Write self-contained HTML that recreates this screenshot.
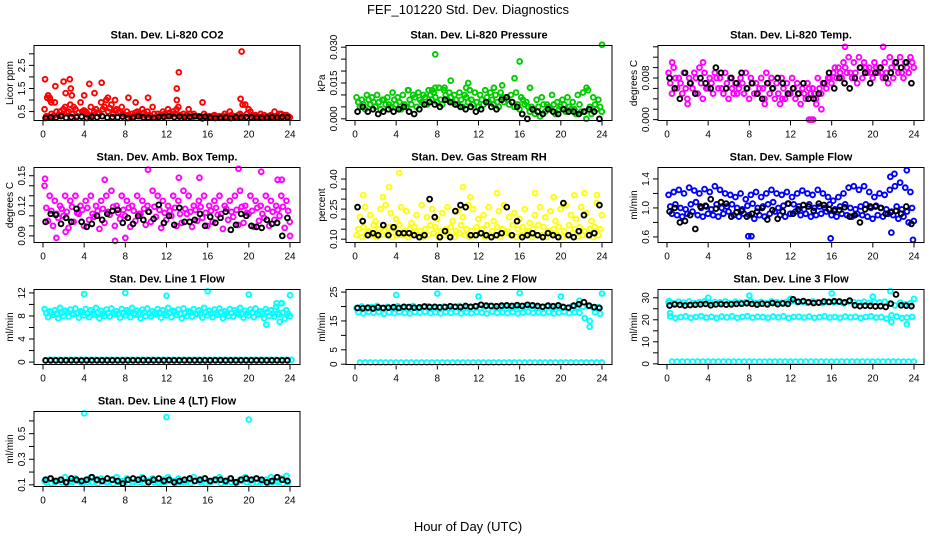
<!DOCTYPE html>
<html><head><meta charset="utf-8">
<style>
html,body{margin:0;padding:0;background:#fff;}
svg{display:block;font-family:"Liberation Sans",Arial,sans-serif;}
</style></head>
<body>
<svg id="chart" width="936" height="540" viewBox="0 0 936 540" xmlns="http://www.w3.org/2000/svg">
<rect width="936" height="540" fill="#fff"/>
<text x="468" y="14" font-size="13" text-anchor="middle">FEF_101220  Std. Dev. Diagnostics</text>
<text x="468" y="531" font-size="13" text-anchor="middle">Hour of Day (UTC)</text>
</svg>
<script>
// ---- Data (hours 0..24) ----
const xTicks = [0,4,8,12,16,20,24];
// Panel 1 CO2
const co2A = [0.6,1.1,0.9,0.5,0.7,0.8,0.6,0.9,0.5,0.7,0.6,0.9,1.0,0.8,0.6,0.7,0.5,0.4,0.5,0.6,0.5,0.7,0.4,0.5,0.6,0.5,0.7,0.4,0.6,0.4,0.3,0.4,0.3,0.35,0.3,0.4,0.5,0.3,0.4,0.8,0.5,0.35,0.4,0.3,0.35,0.3,0.4,0.35];
const co2B = [0.3,0.4,0.5,0.35,0.45,0.4,0.3,0.5,0.4,0.35,0.45,0.6,0.5,0.4,0.45,0.4,0.35,0.3,0.4,0.45,0.35,0.4,0.3,0.4,0.45,0.4,0.35,0.3,0.4,0.3,0.25,0.3,0.25,0.3,0.25,0.3,0.35,0.25,0.3,0.4,0.35,0.3,0.3,0.25,0.3,0.25,0.3,0.3];
const co2C = [0.25,0.3,0.35,0.6,0.5,0.7,0.45,0.55,0.3,0.5,0.4,0.7,0.65,0.55,0.5,0.35,0.3,0.45,0.3,0.35,0.3,0.25,0.35,0.3,0.35,0.6,0.3,0.35,0.25,0.3,0.2,0.25,0.3,0.25,0.3,0.25,0.3,0.35,0.3,0.6,0.3,0.25,0.35,0.3,0.3,0.4,0.35,0.25];
const co2OutT = [0.2,0.4,0.5,0.7,0.8,1.2,2.0,2.2,2.6,2.7,2.8,4.0,4.5,5.0,5.7,6.3,7.0,8.3,9.0,10.2,13.0,13.2,13.0,15.5,19.2,19.3,19.4,22.5];
const co2OutV = [1.9,1.1,1.2,1.0,0.9,1.6,1.8,1.3,1.9,1.5,1.2,1.2,1.7,1.3,1.75,1.1,1.0,1.1,0.9,1.1,1.5,2.2,1.0,0.9,1.05,3.1,0.8,0.5];
const co2K = [0.22,0.25,0.24,0.3,0.23,0.26,0.25,0.28,0.22,0.27,0.25,0.3,0.24,0.26,0.25,0.28,0.22,0.24,0.3,0.25,0.24,0.23,0.26,0.27,0.3,0.26,0.28,0.25,0.27,0.3,0.27,0.28,0.24,0.22,0.23,0.24,0.22,0.25,0.24,0.26,0.25,0.24,0.23,0.24,0.25,0.24,0.26,0.25];
// Panel 2 Pressure
const prA = [.009,.008,.010,.009,.010,.008,.009,.011,.009,.010,.012,.010,.011,.010,.012,.011,.013,.012,.011,.010,.011,.010,.012,.011,.010,.012,.011,.010,.011,.009,.010,.011,.009,.007,.005,.008,.009,.006,.010,.007,.008,.009,.007,.010,.011,.012,.009,.008];
const prB = [.005,.004,.006,.005,.004,.006,.005,.006,.004,.005,.006,.005,.007,.006,.008,.007,.006,.008,.007,.006,.005,.007,.006,.005,.006,.007,.006,.005,.007,.006,.005,.004,.006,.003,.002,.001,.003,.004,.002,.005,.003,.004,.002,.003,.000,.002,.004,.003];
const prC = [.007,.006,.008,.007,.007,.008,.006,.008,.007,.006,.008,.009,.008,.009,.010,.009,.008,.010,.009,.008,.008,.009,.008,.007,.008,.009,.008,.007,.009,.008,.007,.006,.008,.005,.004,.005,.006,.005,.006,.004,.006,.005,.004,.006,.003,.005,.006,.005];
const prOutT = [7.8,9.3,8.7,11.0,10.8,13.5,14.3,15.5,16.0,17.0,7.5,7.8,24,22.5,5.2];
const prOutV = [.027,.016,.013,.015,.013,.013,.014,.017,.024,.013,.012,.013,.031,.013,.012];
const prK = [.003,.005,.003,.004,.002,.003,.004,.003,.004,.005,.003,.002,.004,.006,.007,.006,.005,.008,.007,.006,.005,.004,.005,.003,.004,.007,.005,.004,.008,.009,.007,.005,.002,.000,.004,.003,.002,.004,.003,.002,.004,.003,.003,.002,.003,.004,.003,.000];
// Panel 3 Temp
const tpA = [.009,.010,.008,.009,.008,.009,.010,.009,.008,.009,.008,.009,.008,.007,.008,.009,.008,.007,.008,.009,.008,.007,.008,.007,.008,.007,.006,.007,.006,.008,.007,.008,.009,.010,.011,.012,.011,.012,.011,.010,.011,.010,.011,.012,.011,.012,.011,.012];
const tpB = [.005,.006,.005,.004,.006,.005,.004,.006,.005,.006,.005,.004,.005,.006,.005,.004,.005,.006,.004,.005,.004,.003,.004,.005,.004,.003,.004,.005,.004,.005,.006,.007,.008,.008,.009,.008,.007,.008,.009,.008,.009,.008,.007,.008,.009,.008,.009,.010];
const tpC = [.007,.008,.007,.006,.007,.008,.007,.006,.007,.008,.006,.007,.006,.005,.007,.006,.007,.005,.006,.007,.006,.005,.006,.005,.006,.005,.005,.006,.005,.006,.007,.008,.010,.009,.010,.009,.009,.010,.010,.009,.010,.009,.009,.010,.010,.009,.010,.011];
const tpOutT = [14,14.2,13.8,2.0,9.5,15,14.5,11.2,17.3,21.0,0.5,3.5];
const tpOutV = [.000,.000,.000,.003,.003,.002,.003,.004,.014,.014,.011,.011];
const tpK = [.008,.006,.004,.009,.007,.005,.008,.007,.006,.010,.009,.006,.008,.007,.009,.006,.007,.005,.004,.007,.006,.008,.007,.005,.006,.005,.007,.004,.004,.005,.007,.009,.006,.008,.007,.006,.008,.010,.009,.007,.009,.010,.008,.009,.011,.010,.011,.007];
// Panel 4 Amb box temp
const abA = [.14,.13,.125,.12,.13,.125,.13,.12,.125,.13,.12,.125,.13,.135,.12,.13,.125,.12,.13,.125,.12,.135,.13,.125,.12,.13,.125,.135,.13,.12,.125,.13,.12,.125,.13,.12,.125,.13,.135,.12,.13,.125,.12,.13,.125,.12,.13,.125];
const abB = [.105,.10,.108,.11,.098,.104,.112,.10,.106,.109,.097,.103,.111,.10,.107,.11,.099,.105,.112,.101,.104,.109,.098,.106,.11,.10,.103,.112,.099,.105,.108,.10,.104,.111,.097,.106,.109,.101,.103,.112,.099,.105,.108,.10,.106,.11,.098,.104];
const abC = [.118,.115,.112,.117,.114,.119,.113,.116,.118,.112,.115,.117,.114,.119,.113,.116,.118,.115,.112,.117,.114,.119,.116,.113,.115,.118,.112,.117,.114,.116,.119,.113,.115,.118,.112,.117,.114,.116,.119,.113,.115,.118,.112,.117,.114,.116,.119,.115];
const abOutT = [10.2,19,21.2,13.2,6,0.2,7,1.3,8,2.2,24,15.2,22.8,23.2];
const abOutV = [.156,.157,.154,.148,.146,.147,.085,.088,.088,.094,.090,.148,.146,.146];
const abK = [.104,.112,.111,.102,.108,.104,.117,.104,.099,.102,.110,.106,.112,.115,.116,.103,.108,.102,.110,.106,.114,.107,.121,.103,.110,.101,.118,.104,.104,.106,.112,.100,.109,.103,.108,.114,.096,.101,.112,.110,.100,.099,.098,.106,.102,.103,.090,.108];
// Panel 5 Gas stream RH
const rhA = [.12,.11,.13,.12,.11,.12,.13,.11,.12,.12,.11,.13,.12,.11,.12,.13,.11,.12,.12,.11,.13,.12,.11,.12,.13,.11,.12,.12,.11,.13,.12,.11,.12,.13,.11,.12,.12,.11,.13,.12,.11,.12,.13,.11,.12,.12,.11,.12];
const rhB = [.15,.16,.14,.17,.15,.14,.16,.15,.17,.14,.15,.16,.14,.15,.17,.16,.14,.15,.16,.14,.17,.15,.14,.16,.15,.17,.14,.16,.15,.14,.17,.15,.16,.14,.15,.17,.16,.14,.15,.16,.14,.17,.15,.16,.14,.15,.16,.15];
const rhC = [.21,.26,.22,.19,.25,.27,.23,.20,.26,.24,.18,.22,.27,.21,.25,.20,.23,.26,.19,.24,.21,.27,.25,.20,.22,.26,.19,.24,.27,.21,.23,.20,.25,.18,.22,.26,.21,.24,.19,.25,.27,.22,.20,.26,.23,.19,.28,.22];
const rhOutT = [4.3,3.3,10.5,0.8,2.7,13.8,19.3,22.3,21.3,23.5,17.5,11.2];
const rhOutV = [.43,.36,.36,.32,.31,.33,.31,.33,.32,.32,.33,.31];
const rhK = [.26,.19,.12,.13,.12,.17,.12,.16,.13,.13,.13,.12,.11,.12,.30,.21,.11,.14,.11,.24,.27,.26,.12,.12,.13,.12,.11,.12,.13,.26,.12,.19,.11,.12,.13,.12,.11,.13,.12,.11,.28,.12,.11,.14,.22,.12,.13,.27];
// Panel 6 Sample flow
const sfA = [1.18,1.22,1.25,1.2,1.28,1.24,1.2,1.26,1.22,1.3,1.25,1.2,1.18,1.15,1.2,1.12,1.18,1.22,1.15,1.2,1.25,1.2,1.18,1.22,1.15,1.2,1.24,1.2,1.18,1.25,1.2,1.15,1.1,1.15,1.2,1.28,1.3,1.25,1.3,1.22,1.15,1.2,1.18,1.25,1.3,1.35,1.28,1.22];
const sfB = [0.92,0.9,0.88,0.92,0.95,0.9,0.88,0.92,0.9,0.88,0.92,0.95,0.9,0.88,0.92,0.9,0.85,0.9,0.88,0.92,0.95,0.9,0.88,0.92,0.95,0.9,0.92,0.88,0.9,0.92,0.95,0.9,0.88,0.92,0.9,0.88,0.92,0.9,0.88,0.85,0.9,0.88,0.92,0.9,0.85,0.88,0.8,0.82];
const sfC = [1.02,1.05,1.0,0.98,1.05,1.08,1.0,1.02,0.98,1.05,1.0,1.02,1.05,1.0,0.98,1.03,1.06,1.0,1.02,1.05,1.08,1.0,1.03,1.06,1.05,1.02,0.98,1.05,1.0,1.02,1.0,1.05,0.98,1.02,1.05,1.0,0.98,1.02,1.05,1.0,1.03,1.0,0.98,0.95,1.02,0.98,0.95,1.0];
const sfOutT = [7.9,8.2,15.9,23.9,23.3,22.1,21.7,21.8];
const sfOutV = [.61,.61,.58,.56,1.52,1.47,1.43,.66];
const sfK = [.95,1.0,.8,.82,.9,.71,1.02,1.03,1.12,.99,1.08,1.06,.88,.94,.96,.88,.92,.95,1.0,.84,.97,.85,.95,1.06,.92,.98,1.04,1.02,.96,1.06,1.04,.98,.96,.97,1.01,.88,.9,.8,.98,1.02,1.02,1.0,.92,.94,.96,.92,1.02,.78];
// Panel 7 Line 1 flow
const l1A = [9.2,8.8,9.0,9.4,8.9,9.1,9.3,8.8,9.2,9.0,9.4,8.9,9.1,9.3,8.8,9.2,9.0,9.4,8.9,9.1,9.3,8.8,9.2,9.0,9.4,8.9,9.1,9.3,8.8,9.2,9.0,9.4,8.9,9.1,9.3,8.8,9.2,9.0,9.4,8.9,9.1,9.3,8.8,9.2,9.0,9.6,10.2,9.0];
const l1B = [7.8,8.2,7.6,8.0,7.9,8.3,7.7,8.1,7.8,8.2,7.6,8.0,7.9,8.3,7.7,8.1,7.8,8.2,7.6,8.0,7.9,8.3,7.7,8.1,7.8,8.2,7.6,8.0,7.9,8.3,7.7,8.1,7.8,8.2,7.6,8.0,7.9,8.3,7.7,8.1,7.8,8.2,7.6,8.0,7.9,8.3,7.5,8.0];
const l1C = [8.5,8.6,8.4,8.5,8.6,8.4,8.5,8.7,8.4,8.5,8.6,8.4,8.5,8.6,8.4,8.5,8.7,8.4,8.5,8.6,8.4,8.5,8.6,8.4,8.5,8.7,8.4,8.5,8.6,8.4,8.5,8.6,8.4,8.5,8.7,8.4,8.5,8.6,8.4,8.5,8.6,8.4,8.5,8.7,8.4,8.5,8.6,8.4];
const l1Z = [0.4,0.4,0.4,0.4,0.4,0.4,0.4,0.4,0.4,0.4,0.4,0.4,0.4,0.4,0.4,0.4,0.4,0.4,0.4,0.4,0.4,0.4,0.4,0.4,0.4,0.4,0.4,0.4,0.4,0.4,0.4,0.4,0.4,0.4,0.4,0.4,0.4,0.4,0.4,0.4,0.4,0.4,0.4,0.4,0.4,0.4,0.4,0.4];
const l1OutT = [4,8,12,16,20,24,21.7,23,23.2,22.7];
const l1OutV = [11.8,12,11.5,12.3,11.7,11.6,6.5,7,10.2,10.2];
const l1K = [0.3,0.3,0.3,0.3,0.3,0.3,0.3,0.3,0.3,0.3,0.3,0.3,0.3,0.3,0.3,0.3,0.3,0.3,0.3,0.3,0.3,0.3,0.3,0.3,0.3,0.3,0.3,0.3,0.3,0.3,0.3,0.3,0.3,0.3,0.3,0.3,0.3,0.3,0.3,0.3,0.3,0.3,0.3,0.3,0.3,0.3,0.3,0.3];
// Panel 8 Line 2 flow
const l2A = [19.5,20,19.2,19.8,20.2,19.5,19.9,19.3,20.1,19.6,19.8,20.2,19.4,19.9,20.1,19.5,19.8,20,19.3,19.9,20.2,19.6,19.8,20.1,19.5,19.9,20.2,19.4,19.8,20.1,19.5,20,19.3,19.8,20.2,19.6,19.9,20.1,19.4,19.8,20,19.5,20.2,19.7,19.9,20.1,19.6,19.8];
const l2B = [18,17.6,18.2,17.8,18.1,17.5,18,17.7,18.2,17.8,17.6,18.1,17.9,18.2,17.7,18,17.6,18.1,17.8,18.2,17.6,18,17.7,18.1,17.9,17.6,18.2,17.8,18,17.7,18.1,17.6,17.9,18.2,17.8,18,17.7,18.1,17.6,17.9,18.2,17.7,18,17.8,16,15,18,17.5];
const l2Z = [0.6,0.6,0.6,0.6,0.6,0.6,0.6,0.6,0.6,0.6,0.6,0.6,0.6,0.6,0.6,0.6,0.6,0.6,0.6,0.6,0.6,0.6,0.6,0.6,0.6,0.6,0.6,0.6,0.6,0.6,0.6,0.6,0.6,0.6,0.6,0.6,0.6,0.6,0.6,0.6,0.6,0.6,0.6,0.6,0.6,0.6,0.6,0.6];
const l2OutT = [4,8,12,16,20,24,22.8,21.8];
const l2OutV = [24,24.5,23.5,24.7,23.5,24.5,13,22];
const l2K = [19.5,19.4,19.6,19.3,19.7,19.5,19.6,19.8,19.5,19.9,19.8,19.6,19.7,20,19.8,19.9,19.7,19.8,20.1,19.9,19.8,20.2,19.9,20.1,20.6,20.3,20.2,20.1,20.3,20.4,20.2,20.5,20.2,20.6,20.4,20.2,19.9,20.3,20.1,20.4,19.8,19.6,20.3,20.8,21.5,20.3,19.8,19.5];
// Panel 9 Line 3 flow
const l3A = [28,27.5,28.2,27.8,28.3,27.6,28,28.4,27.7,28.1,27.9,28.3,27.6,28.2,27.8,28,28.4,27.7,28.1,27.5,28.3,28,27.8,28.2,28.5,27.9,28.1,27.7,28.3,28,27.6,28.2,27.9,28.1,27.5,28.3,28,27.8,28.2,27.7,28.1,27.9,28.2,27.4,26.5,27.8,27,27.5];
const l3B = [21.5,20.8,21.2,21.6,20.9,21.3,21.7,21,21.4,20.8,21.5,21.1,21.6,20.9,21.3,21.7,21,21.4,21.2,20.9,21.5,21.1,21.6,20.8,21.3,21.4,21,21.5,20.9,21.2,21.6,21,21.3,20.9,21.5,21.1,21.4,20.8,21.3,21.6,21,21.2,20.5,22,21.5,20.8,21,21.3];
const l3Z = [1,1,1,1,1,1,1,1,1,1,1,1,1,1,1,1,1,1,1,1,1,1,1,1,1,1,1,1,1,1,1,1,1,1,1,1,1,1,1,1,1,1,1,1,1,1,1,1];
const l3OutT = [4,8,12,16,20,21.7,21.8,23.3,24,0.2,0.3];
const l3OutV = [30,31,29.5,32,30.5,33,19,18,29.5,28.5,23];
const l3K = [26.5,27,26.8,26.5,26.7,26.8,27,27.2,26.6,27,27.1,26.9,27,27.2,27.3,27.5,27.2,26.9,27.3,27,27.6,27.1,27.4,27.2,29.3,28.2,28.5,28,27.6,27.8,28.3,28.1,28.4,28.3,27.9,28.7,26.6,26.2,26.4,26.3,26.1,26.2,25.8,27.3,31.5,26.6,26.4,26.2];
// Panel 10 Line 4 flow
const l4A = [.13,.15,.12,.14,.16,.13,.15,.12,.14,.16,.13,.15,.12,.14,.16,.13,.15,.12,.14,.16,.13,.15,.12,.14,.16,.13,.15,.12,.14,.16,.13,.15,.12,.14,.16,.13,.15,.12,.14,.16,.13,.15,.12,.14,.16,.13,.15,.17];
const l4B = [.12,.11,.13,.12,.11,.12,.13,.11,.12,.12,.11,.13,.12,.11,.12,.13,.11,.12,.12,.11,.13,.12,.11,.12,.13,.11,.12,.12,.11,.13,.12,.11,.12,.13,.11,.12,.12,.11,.13,.12,.11,.12,.13,.11,.12,.12,.11,.12];
const l4OutT = [4,12,20];
const l4OutV = [.66,.63,.61];
const l4K = [.14,.15,.13,.14,.12,.15,.14,.13,.14,.16,.14,.13,.15,.14,.13,.11,.14,.15,.14,.15,.12,.14,.15,.13,.14,.12,.13,.14,.15,.13,.14,.15,.13,.14,.14,.13,.15,.12,.14,.15,.14,.15,.14,.12,.13,.16,.14,.13];

const panels = [
 {name:"co2", title:"Stan. Dev. Li-820 CO2", ylab:"Licor ppm", col:0,row:0, ymin:0.114, ymax:3.36, ticks:[0.5,1,1.5,2,2.5,3], labels:["0.5","","1.5","","2.5",""], color:"#ff0000", series:[co2A,co2B,co2C], outT:co2OutT, outV:co2OutV, black:co2K},
 {name:"pressure", title:"Stan. Dev. Li-820 Pressure", ylab:"kPa", col:1,row:0, ymin:-0.0007, ymax:0.0307, ticks:[0,.005,.01,.015,.02,.025,.03], labels:["0.000","","","0.015","","","0.030"], color:"#00cc00", series:[prA,prC,prB], outT:prOutT, outV:prOutV, black:prK},
 {name:"temp", title:"Stan. Dev. Li-820 Temp.", ylab:"degrees C", col:2,row:0, ymin:-0.00017, ymax:0.01425, ticks:[0,.002,.004,.006,.008,.010,.012,.014], labels:["0.000","","","","0.008","","",""], color:"#ff00ff", series:[tpA,tpC,tpB], outT:tpOutT, outV:tpOutV, black:tpK},
 {name:"amb-box-temp", title:"Stan. Dev. Amb. Box Temp.", ylab:"degrees C", col:0,row:1, ymin:0.0834, ymax:0.1582, ticks:[.09,.10,.11,.12,.13,.14,.15], labels:["0.09","","","0.12","","","0.15"], color:"#ff00ff", series:[abA,abC,abB], outT:abOutT, outV:abOutV, black:abK},
 {name:"gas-stream-rh", title:"Stan. Dev. Gas Stream RH", ylab:"percent", col:1,row:1, ymin:0.0835, ymax:0.4576, ticks:[.10,.15,.20,.25,.30,.35,.40], labels:["0.10","","","0.25","","","0.40"], color:"#ffff00", series:[rhA,rhB,rhC], outT:rhOutT, outV:rhOutV, black:rhK},
 {name:"sample-flow", title:"Stan. Dev. Sample Flow", ylab:"ml/min", col:2,row:1, ymin:0.523, ymax:1.558, ticks:[.6,.8,1.0,1.2,1.4], labels:["0.6","","1.0","","1.4"], color:"#0000ff", series:[sfA,sfC,sfB], outT:sfOutT, outV:sfOutV, black:sfK},
 {name:"line1-flow", title:"Stan. Dev. Line 1 Flow", ylab:"ml/min", col:0,row:2, ymin:-0.42, ymax:12.59, ticks:[0,2,4,6,8,10,12], labels:["0","","4","","8","","12"], color:"#00ffff", series:[l1A,l1C,l1B,l1Z], outT:l1OutT, outV:l1OutV, black:l1K},
 {name:"line2-flow", title:"Stan. Dev. Line 2 Flow", ylab:"ml/min", col:1,row:2, ymin:-0.1, ymax:25.9, ticks:[0,5,10,15,20,25], labels:["0","5","","15","","25"], color:"#00ffff", series:[l2A,l2B,l2Z], outT:l2OutT, outV:l2OutV, black:l2K},
 {name:"line3-flow", title:"Stan. Dev. Line 3 Flow", ylab:"ml/min", col:2,row:2, ymin:-0.3, ymax:33.75, ticks:[0,5,10,15,20,25,30], labels:["0","","10","","20","","30"], color:"#00ffff", series:[l3A,l3B,l3Z], outT:l3OutT, outV:l3OutV, black:l3K},
 {name:"line4-flow", title:"Stan. Dev. Line 4 (LT) Flow", ylab:"ml/min", col:0,row:3, ymin:0.087, ymax:0.6736, ticks:[.1,.2,.3,.4,.5,.6], labels:["0.1","","0.3","","0.5",""], color:"#00ffff", series:[l4A,l4B], outT:l4OutT, outV:l4OutV, black:l4K}
];

const NS = "http://www.w3.org/2000/svg";
const svg = document.getElementById("chart");
function mk(tag, attrs, parent){
  const e = document.createElementNS(NS, tag);
  for (const k in attrs) e.setAttribute(k, attrs[k]);
  parent.appendChild(e);
  return e;
}
panels.forEach(p => {
  const L = 34 + 312*p.col, R = 300 + 312*p.col;
  const T = 45.5 + 122*p.row, B = 120.5 + 122*p.row;
  const x0 = 43 + 312*p.col, x24 = 290 + 312*p.col;
  const xs = h => x0 + (x24 - x0) * h / 24;
  const ys = v => B - (B - T) * (v - p.ymin) / (p.ymax - p.ymin);
  const g = mk("g", {}, svg);
  
  
  const t = mk("text", {x:(L+R)/2, y:T-7, "font-size":11, "font-weight":"bold", "text-anchor":"middle"}, g);
  t.textContent = p.title;
  
  
  const yl = mk("text", {x:0, y:0, "font-size":10, "text-anchor":"middle", transform:`translate(${L-21},${(T+B)/2}) rotate(-90)`}, g);
  yl.textContent = p.ylab;
  
  
  p.ticks.forEach((v, i) => {
    const y = ys(v);
    const tk = mk("line", {x1:L-5, x2:L, y1:y, y2:y, stroke:"#000", "stroke-width":1}, g);
    
    
    if (p.labels[i]) {
      const tl = mk("text", {x:0, y:0, "font-size":10, "text-anchor":"middle", transform:`translate(${L-9},${y}) rotate(-90)`}, g);
      tl.textContent = p.labels[i];
      
      
    }
  });
  xTicks.forEach(h => {
    const x = xs(h);
    const tk = mk("line", {x1:x, x2:x, y1:B, y2:B+5, stroke:"#000", "stroke-width":1}, g);
    
    
    const tl = mk("text", {x:x, y:B+17, "font-size":10, "text-anchor":"middle"}, g);
    tl.textContent = String(h);
    
    
  });
  const pts = mk("g", {fill:"none", "stroke-width":1.9}, g);
  
  
  p.series.forEach((arr, si) => {
    const n = arr.length;
    arr.forEach((v, i) => {
      const h = (i + 0.3 + si*0.33) * 24 / n;
      const c = mk("circle", {cx:xs(h), cy:ys(v), r:2.4, stroke:p.color}, pts);
      
      
    });
  });
  p.outT.forEach((h, i) => {
    const c = mk("circle", {cx:xs(h), cy:ys(p.outV[i]), r:2.4, stroke:p.color}, pts);
    
    
  });
  const n = p.black.length;
  p.black.forEach((v, i) => {
    const h = (i + 0.5) * 24 / n;
    const c = mk("circle", {cx:xs(h), cy:ys(v), r:2.4, stroke:"#000"}, pts);
    
    
  });
  const box = mk("rect", {x:L, y:T, width:R-L, height:B-T, fill:"none", stroke:"#000", "stroke-width":1}, g);
  
  
});
</script>
</body></html>
